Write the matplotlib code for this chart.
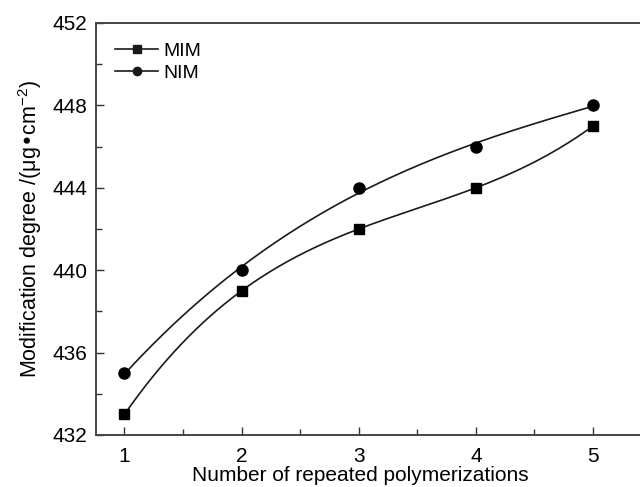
import numpy as np
import matplotlib.pyplot as plt

plt.rcParams['font.family'] = ['Liberation Sans', 'DejaVu Sans']
plt.rcParams['mathtext.default'] = 'regular'

# data
n = [1, 2, 3, 4, 5]
mim = [433, 439, 442, 444, 447]
nim = [435, 440, 444, 446, 448]


def smooth(x, y):
    # smooth cubic trend through the points (like Origin's spline line)
    c = np.polyfit(x, y, 3)
    xs = np.linspace(min(x), max(x), 200)
    return xs, np.polyval(c, xs)


fig = plt.figure(figsize=(6.4, 4.87), dpi=100)
ax = fig.add_axes([0.15, 0.1068, 0.868, 0.846])

for y, m, lab in [(mim, 's', 'MIM'), (nim, 'o', 'NIM')]:
    xs, ys = smooth(n, y)
    ax.plot(xs, ys, color='#1a1a1a', lw=1.2)
    ax.plot(n, y, ls='none', marker=m, color='black', ms=8 if m == 'o' else 7)
    ax.plot([], [], color='#1a1a1a', lw=1.2, marker=m, ms=6, label=lab)

ax.set_xlim(0.757, 5.5)
ax.set_ylim(432, 452)
ax.set_xticks([1, 2, 3, 4, 5])
ax.set_xticks([1.5, 2.5, 3.5, 4.5], minor=True)
ax.set_yticks([432, 436, 440, 444, 448, 452])
ax.set_yticks([434, 438, 442, 446, 450], minor=True)
ax.tick_params(which='both', direction='in', labelsize=15, color='#333333')
ax.tick_params(which='major', length=6, width=1, pad=6)
ax.tick_params(axis='x', which='major', pad=9)
ax.tick_params(which='minor', length=4, width=1)
for s in ax.spines.values():
    s.set_linewidth(1.4)
    s.set_color('#444444')

ax.set_xlabel('Number of repeated polymerizations', fontsize=15, labelpad=0)
ax.xaxis.set_label_coords(0.475, -0.075)
ax.set_ylabel('Modification degree /(\u03bcg\u2022cm$^{-2}$)', fontsize=15.5, labelpad=6)
ax.legend(loc='upper left', frameon=False, fontsize=14, handlelength=2.2,
          handletextpad=0.25, labelspacing=0.2, borderaxespad=0.6,
          bbox_to_anchor=(0.0, 1.0))

fig.savefig('out.png', dpi=100)
